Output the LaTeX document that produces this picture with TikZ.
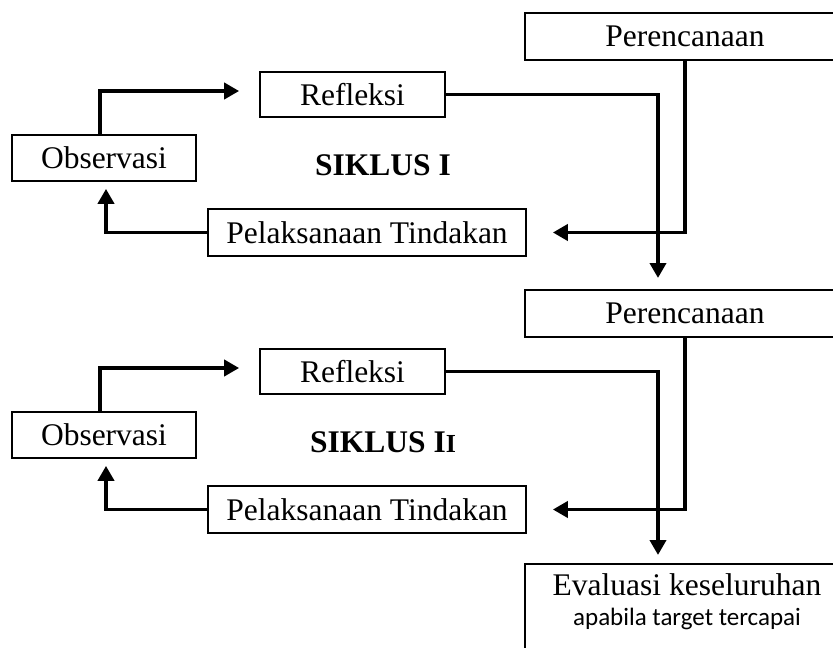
\documentclass[tikz,border=0pt]{standalone}
\usepackage{fontspec}
\setmainfont{Liberation Serif}
\newfontfamily\smallsans{Carlito}
\usetikzlibrary{arrows.meta}
\tikzset{
  stepbox/.style={draw, line width=1.7pt, inner sep=0pt, font=\fontsize{31.5}{36}\selectfont},
  arr/.style={line width=3.8pt, -{Triangle[length=15pt,width=16pt]}},
  title/.style={font=\bfseries\fontsize{31.5}{36}\selectfont, anchor=base, inner sep=0pt}
}
\begin{document}
\begin{tikzpicture}[x=1pt,y=-1pt]
\clip (0,0) rectangle (833,648);
\useasboundingbox (0,0) rectangle (833,648);
% Cycle I
\node[stepbox, minimum width=320pt, minimum height=47pt] (per1) at (685,36.5) {Perencanaan};
\node[stepbox, minimum width=185pt, minimum height=45pt] (ref1) at (352.5,94.5) {Refleksi};
\node[stepbox, minimum width=184pt, minimum height=46pt] (obs1) at (104,158) {Observasi};
\node[stepbox, minimum width=318pt, minimum height=47pt] (pel1) at (367,232.5) {Pelaksanaan Tindakan};
\node[title] (sik1) at (383,175) {SIKLUS I};
\coordinate (d1) at (658,278);
\draw[arr] ([xshift=-4pt]obs1.north) |- ([xshift=-20pt,yshift=3.5pt]ref1.west);
\draw[arr] (pel1.west) -| ([xshift=2pt,yshift=-7pt]obs1.south);
\draw[arr] (ref1.east) -| (d1);
\draw[arr] (per1.south) |- ([xshift=26pt]pel1.east);
% Cycle II
\node[stepbox, minimum width=320pt, minimum height=47pt] (per2) at (685,313.5) {Perencanaan};
\node[stepbox, minimum width=185pt, minimum height=45pt] (ref2) at (352.5,371.5) {Refleksi};
\node[stepbox, minimum width=184pt, minimum height=46pt] (obs2) at (104,435) {Observasi};
\node[stepbox, minimum width=318pt, minimum height=47pt] (pel2) at (367,509.5) {Pelaksanaan Tindakan};
\node[title] (sik2) at (383,452) {SIKLUS I{\fontsize{26}{28}\selectfont I}};
\coordinate (d2) at (658,555);
\draw[arr] ([xshift=-4pt]obs2.north) |- ([xshift=-20pt,yshift=3.5pt]ref2.west);
\draw[arr] (pel2.west) -| ([xshift=2pt,yshift=-7pt]obs2.south);
\draw[arr] (ref2.east) -| (d2);
\draw[arr] (per2.south) |- ([xshift=26pt]pel2.east);
% Evaluation
\node[stepbox, minimum width=324pt, minimum height=110pt, anchor=north] (eval) at (687,563) {};
\node[anchor=base, inner sep=0pt, font=\fontsize{31.5}{36}\selectfont] (evt1) at (687,595) {Evaluasi keseluruhan};
\node[anchor=base, inner sep=0pt, font=\smallsans\fontsize{25}{28}\selectfont] (evt2) at (687,625) {apabila target tercapai};
\end{tikzpicture}
\end{document}
